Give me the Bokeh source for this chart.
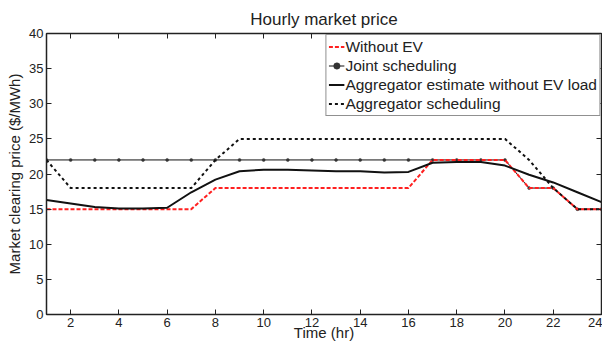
from bokeh.plotting import figure
from bokeh.models import Range1d, LinearAxis, Legend, LegendItem, FixedTicker
from bokeh.embed import file_html
from bokeh.resources import INLINE

hours = list(range(1, 25))
without_ev = [15, 15, 15, 15, 15, 15, 15, 18, 18, 18, 18, 18, 18, 18, 18, 18,
              22, 22, 22, 22, 18, 18, 15, 15]
joint = [22, 22, 22, 22, 22, 22, 22, 22, 22, 22, 22, 22, 22, 22, 22, 22,
         22, 22, 22, 22, 18, 18, 15, 15]
agg_estimate = [16.3, 15.8, 15.3, 15.1, 15.1, 15.2, 17.4, 19.2, 20.4, 20.6, 20.6, 20.5,
                20.4, 20.4, 20.2, 20.3, 21.6, 21.7, 21.7, 21.2, 19.9, 18.8, 17.4, 16.0]
agg_sched = [22, 18, 18, 18, 18, 18, 18, 22, 25, 25, 25, 25, 25, 25, 25, 25,
             25, 25, 25, 25, 22, 18, 15, 15]
x_ticks = [2, 4, 6, 8, 10, 12, 14, 16, 18, 20, 22, 24]
y_ticks = [0, 5, 10, 15, 20, 25, 30, 35, 40]

FONT = "Liberation Sans"
TXT = "#222222"

p = figure(width=602, height=344, output_backend="svg", toolbar_location=None,
           x_range=Range1d(1, 24), y_range=Range1d(0, 40),
           min_border_left=46, min_border_right=1, min_border_top=33, min_border_bottom=30,
           title="Hourly market price")
p.title.text_font = FONT
p.title.text_font_size = "17px"
p.title.text_font_style = "normal"
p.title.text_color = TXT
p.title.align = "center"

p.xgrid.visible = False
p.ygrid.visible = False
p.outline_line_color = "#222222"
p.outline_line_width = 1

def style_axis(ax, ticks, labels=True):
    ax.major_tick_in = 5
    ax.major_tick_out = 0
    ax.minor_tick_in = 0
    ax.minor_tick_out = 0
    ax.axis_line_color = "#222222"
    ax.axis_line_width = 1.5
    ax.major_tick_line_color = "#222222"
    ax.major_label_text_font = FONT
    ax.major_label_text_color = TXT
    if labels:
        ax.major_label_text_font_size = "13px"
        ax.major_label_standoff = 3
    else:
        ax.major_label_overrides = {t: "" for t in ticks}
        ax.major_label_text_font_size = "1px"
        ax.major_label_standoff = 0

p.xaxis.ticker = FixedTicker(ticks=x_ticks)
p.yaxis.ticker = FixedTicker(ticks=y_ticks)
style_axis(p.xaxis[0], x_ticks)
style_axis(p.yaxis[0], y_ticks)
p.yaxis.axis_label = "Market clearing price ($/MWh)"
p.yaxis.axis_label_text_font = FONT
p.yaxis.axis_label_text_font_size = "15px"
p.yaxis.axis_label_text_font_style = "normal"
p.yaxis.axis_label_text_color = TXT
p.yaxis.axis_label_standoff = 3

p.xaxis.axis_label = "Time (hr)"
p.xaxis.axis_label_text_font = FONT
p.xaxis.axis_label_text_font_size = "15px"
p.xaxis.axis_label_text_font_style = "normal"
p.xaxis.axis_label_text_color = TXT
p.xaxis.axis_label_standoff = -6

top = LinearAxis(ticker=FixedTicker(ticks=x_ticks))
style_axis(top, x_ticks, labels=False)
p.add_layout(top, "above")
right = LinearAxis(ticker=FixedTicker(ticks=y_ticks))
style_axis(right, y_ticks, labels=False)
p.add_layout(right, "right")

r_joint = p.line(hours, joint, line_color="#111111", line_width=1)
r_joint_m = p.scatter(hours, joint, marker="circle", size=3, fill_color="#333333",
                      line_color="#333333", line_width=0.5)
r_wo = p.line(hours, without_ev, line_color="#ff2020", line_width=2, line_dash="4 2")
r_est = p.line(hours, agg_estimate, line_color="#111111", line_width=2)
r_sched = p.line(hours, agg_sched, line_color="#111111", line_width=2, line_dash="3 3")

legend = Legend(items=[
    LegendItem(label="Without EV", renderers=[r_wo]),
    LegendItem(label="Joint scheduling", renderers=[r_joint, r_joint_m]),
    LegendItem(label="Aggregator estimate without EV load", renderers=[r_est]),
    LegendItem(label="Aggregator scheduling", renderers=[r_sched]),
], location="top_right")
legend.margin = 1
legend.padding = 2
legend.spacing = 0
legend.label_standoff = 1
legend.glyph_width = 16
legend.glyph_height = 19
legend.label_height = 19
legend.label_text_font = FONT
legend.label_text_font_size = "15.5px"
legend.label_text_color = TXT
legend.border_line_color = "#222222"
legend.border_line_width = 1
legend.background_fill_alpha = 1
p.add_layout(legend, "center")

open("out.html", "w").write(file_html(p, INLINE))
